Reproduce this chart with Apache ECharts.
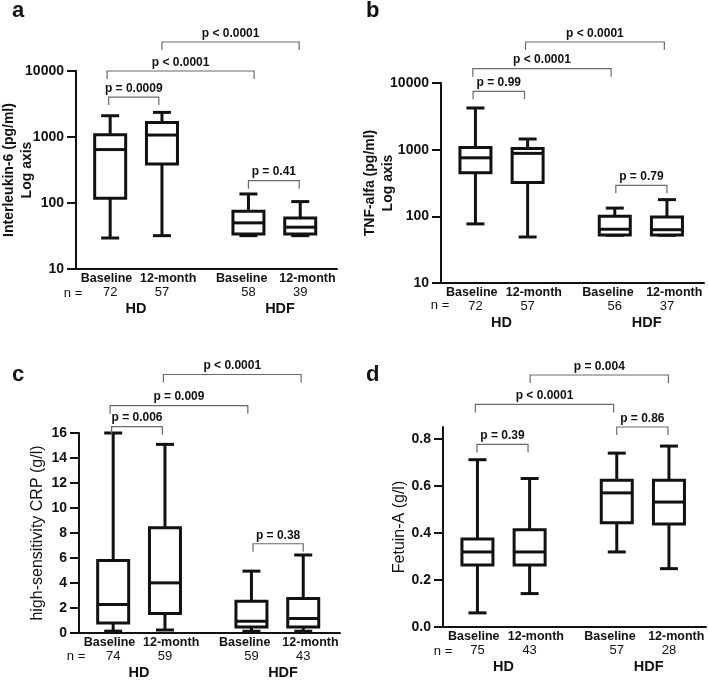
<!DOCTYPE html>
<html>
<head>
<meta charset="utf-8">
<title>IL-6, TNF-alfa, hsCRP and Fetuin-A: HD vs HDF</title>
<script src="https://cdn.jsdelivr.net/npm/echarts@6.0.0/dist/echarts.min.js"></script>
<style>
  html, body { margin: 0; padding: 0; background: #fff; }
  #chart { width: 708px; height: 682px; }
</style>
</head>
<body>
<div id="chart"></div>
<script>
const FONT = '"Liberation Sans", Arial, sans-serif';
const INK = '#111';

// x layout, same in every panel
const xMin = 0.34, xMax = 5.38;
const boxX = [1, 2, 3.67, 4.67];
const catLabelX = [0.93, 2.12, 3.54, 4.81];
const catNames = ['Baseline', '12-month', 'Baseline', '12-month'];
const groupX = [1.5, 4.28];
const groupNames = ['HD', 'HDF'];

// [min, Q1, median, Q3, max]
const il6Stats = [[29.5, 118, 645, 1083, 2100], [32, 390, 1070, 1660, 2360], [32, 34, 50, 75, 137], [32, 34, 43, 59, 105]];
const tnfStats = [[77, 450, 755, 1075, 4220], [49, 322, 880, 1040, 1445], [52, 52.5, 64, 100, 133], [52, 52.5, 63, 98, 178]];
const crpStats = [[0.15, 0.8, 2.28, 5.8, 16.0], [0.24, 1.56, 4.01, 8.43, 15.09], [0.14, 0.48, 0.94, 2.54, 4.95], [0.14, 0.48, 1.16, 2.76, 6.24]];
const fetuinStats = [[0.06, 0.263, 0.319, 0.374, 0.711], [0.142, 0.263, 0.319, 0.413, 0.631], [0.319, 0.443, 0.570, 0.624, 0.739], [0.248, 0.438, 0.531, 0.624, 0.769]];

const il6N = ['72', '57', '58', '39'];
const tnfN = ['72', '57', '56', '37'];
const crpN = ['74', '59', '59', '43'];
const fetuinN = ['75', '43', '57', '28'];

// significance brackets: [from x, to x, level]
const il6Brackets = [[2.0, 4.65, 27500], [0.94, 3.78, 10000], [0.97, 1.94, 4030], [3.67, 4.65, 218]];
const il6P = ['p < 0.0001', 'p < 0.0001', 'p = 0.0009', 'p = 0.41'];
const tnfBrackets = [[1.96, 4.62, 41200], [0.95, 3.6, 16400], [0.955, 1.94, 7510], [3.69, 4.67, 292]];
const tnfP = ['p < 0.0001', 'p < 0.0001', 'p = 0.99', 'p = 0.79'];
const crpBrackets = [[1.97, 4.63, 20.68], [0.94, 3.6, 18.19], [0.97, 1.95, 16.51], [3.7, 4.67, 7.14]];
const crpP = ['p < 0.0001', 'p = 0.009', 'p = 0.006', 'p = 0.38'];
const fetuinBrackets = [[2.01, 4.66, 1.071], [0.96, 3.61, 0.946], [3.67, 4.65, 0.85], [0.99, 1.97, 0.776]];
const fetuinP = ['p = 0.004', 'p < 0.0001', 'p = 0.86', 'p = 0.39'];

const logTicks = [10, 100, 1000, 10000];
const crpTicks = [0, 2, 4, 6, 8, 10, 12, 14, 16];
const fetuinTicks = [0, 0.2, 0.4, 0.6, 0.8];

const panels = [
  {letter: 'a', grid: {left: 76, top: 71, width: 261, height: 198}, stats: il6Stats, n: il6N,
   brackets: il6Brackets, p: il6P, name: 'Interleukin-6 (pg/ml)\nLog axis', nameBold: true, nameGap: 40, log: true},
  {letter: 'b', grid: {left: 441, top: 83, width: 263, height: 200}, stats: tnfStats, n: tnfN,
   brackets: tnfBrackets, p: tnfP, name: 'TNF-alfa (pg/ml)\nLog axis', nameBold: true, nameGap: 44, log: true},
  {letter: 'c', grid: {left: 79, top: 433, width: 261, height: 200}, stats: crpStats, n: crpN,
   brackets: crpBrackets, p: crpP, name: 'high-sensitivity CRP (g/l)', nameBold: false, nameGap: 32,
   ticks: crpTicks, max: 16},
  {letter: 'd', grid: {left: 443, top: 427, width: 263, height: 200}, stats: fetuinStats, n: fetuinN,
   brackets: fetuinBrackets, p: fetuinP, name: 'Fetuin-A (g/l)', nameBold: false, nameGap: 34,
   ticks: fetuinTicks, max: 0.85, digits: 1}
];

function pick(list, positions, v) {
  let best = 0;
  positions.forEach((p, i) => { if (Math.abs(p - v) < Math.abs(positions[best] - v)) best = i; });
  return list[best];
}

function renderBox(params, api) {
  const x = api.value(0);
  const lo = api.coord([x, api.value(1)]);
  const q1 = api.coord([x, api.value(2)]);
  const md = api.coord([x, api.value(3)]);
  const q3 = api.coord([x, api.value(4)]);
  const hi = api.coord([x, api.value(5)]);
  const cx = lo[0], hw = 15.5, cw = 9;
  const st = {stroke: INK, lineWidth: 3, fill: null};
  return {
    type: 'group',
    children: [
      {type: 'line', shape: {x1: cx, y1: hi[1], x2: cx, y2: q3[1]}, style: st},
      {type: 'line', shape: {x1: cx, y1: q1[1], x2: cx, y2: lo[1]}, style: st},
      {type: 'line', shape: {x1: cx - cw, y1: hi[1], x2: cx + cw, y2: hi[1]}, style: st},
      {type: 'line', shape: {x1: cx - cw, y1: lo[1], x2: cx + cw, y2: lo[1]}, style: st},
      {type: 'rect', shape: {x: cx - hw, y: q3[1], width: hw * 2, height: q1[1] - q3[1]},
       style: {stroke: INK, lineWidth: 3, fill: '#fff'}},
      {type: 'line', shape: {x1: cx - hw, y1: md[1], x2: cx + hw, y2: md[1]}, style: st}
    ]
  };
}

function bracketRenderer(labels) {
  return function (params, api) {
    const a = api.coord([api.value(0), api.value(2)]);
    const b = api.coord([api.value(1), api.value(2)]);
    return {
      type: 'group',
      children: [
        {type: 'polyline',
         shape: {points: [[a[0], a[1] + 8], [a[0], a[1]], [b[0], b[1]], [b[0], b[1] + 8]]},
         style: {stroke: '#6a6a6a', lineWidth: 1.2, fill: null}},
        {type: 'text', x: (a[0] + b[0]) / 2, y: a[1] - 8.5,
         style: {text: labels[params.dataIndex], fill: INK, font: 'bold 12px ' + FONT,
                 align: 'center', verticalAlign: 'middle'}}
      ]
    };
  };
}

const grid = [], xAxis = [], yAxis = [], series = [], title = [];

panels.forEach((pn, gi) => {
  grid.push(Object.assign({containLabel: false, outerBoundsMode: 'none'}, pn.grid));
  title.push({text: pn.letter, left: pn.grid.left < 200 ? 12 : 366, top: gi < 2 ? 0 : 364, padding: 0,
              textStyle: {fontSize: 22, fontWeight: 'bold', fontFamily: FONT, color: INK}});

  const base = {gridIndex: gi, type: 'value', min: xMin, max: xMax, position: 'bottom',
                splitLine: {show: false}, axisTick: {show: false}};
  xAxis.push(Object.assign({}, base, {
    axisLine: {show: true, onZero: false, lineStyle: {color: INK, width: 2}},
    axisLabel: {customValues: catLabelX, formatter: v => pick(catNames, catLabelX, v), margin: 3,
                fontSize: 12.5, fontWeight: 'bold', fontFamily: FONT, color: INK}
  }));
  xAxis.push(Object.assign({}, base, {
    offset: 14, axisLine: {show: false, onZero: false},
    axisLabel: {customValues: boxX, formatter: v => pick(pn.n, boxX, v), margin: 3,
                fontSize: 13, fontFamily: FONT, color: INK}
  }));
  xAxis.push(Object.assign({}, base, {
    offset: 29, axisLine: {show: false, onZero: false},
    axisLabel: {customValues: groupX, formatter: v => pick(groupNames, groupX, v), margin: 3,
                fontSize: 14.5, fontWeight: 'bold', fontFamily: FONT, color: INK}
  }));

  const y = {
    gridIndex: gi,
    name: pn.name, nameLocation: 'middle', nameGap: pn.nameGap, nameMoveOverlap: false,
    nameTextStyle: {fontSize: pn.nameBold ? 14 : 16, fontWeight: pn.nameBold ? 'bold' : 'normal',
                    lineHeight: 18, fontFamily: FONT, color: INK},
    axisLine: {show: true, onZero: false, lineStyle: {color: INK, width: 2}},
    axisTick: {show: true, length: 9, lineStyle: {color: INK, width: 2}},
    axisLabel: {margin: 12, fontSize: 14, fontWeight: 'bold', fontFamily: FONT, color: INK},
    splitLine: {show: false}
  };
  if (pn.log) {
    Object.assign(y, {type: 'log', logBase: 10, min: logTicks[0], max: logTicks[logTicks.length - 1]});
    y.axisLabel.formatter = v => String(Math.round(v));
  } else {
    Object.assign(y, {type: 'value', min: pn.ticks[0], max: pn.max});
    y.axisTick.customValues = pn.ticks;
    y.axisLabel.customValues = pn.ticks;
    y.axisLabel.formatter = v => v.toFixed(pn.digits || 0);
  }
  yAxis.push(y);

  series.push({
    type: 'custom', xAxisIndex: gi * 3, yAxisIndex: gi, clip: false, silent: true,
    renderItem: renderBox,
    encode: {x: 0, y: [1, 2, 3, 4, 5]},
    data: pn.stats.map((s, i) => [boxX[i]].concat(s))
  });
  series.push({
    type: 'custom', xAxisIndex: gi * 3, yAxisIndex: gi, clip: false, silent: true,
    renderItem: bracketRenderer(pn.p),
    encode: {x: [0, 1], y: 2},
    data: pn.brackets
  });
});

const nLabelPos = [[73, 293], [440, 305], [76, 656], [443, 651]];

const chart = echarts.init(document.getElementById('chart'), null, {renderer: 'canvas'});
chart.setOption({
  animation: false,
  backgroundColor: '#fff',
  textStyle: {fontFamily: FONT},
  title: title,
  grid: grid,
  xAxis: xAxis,
  yAxis: yAxis,
  series: series,
  graphic: nLabelPos.map(p => ({
    type: 'text', x: p[0], y: p[1], silent: true,
    style: {text: 'n =', fill: INK, font: '13px ' + FONT, align: 'center', verticalAlign: 'middle'}
  }))
});
</script>
</body>
</html>
